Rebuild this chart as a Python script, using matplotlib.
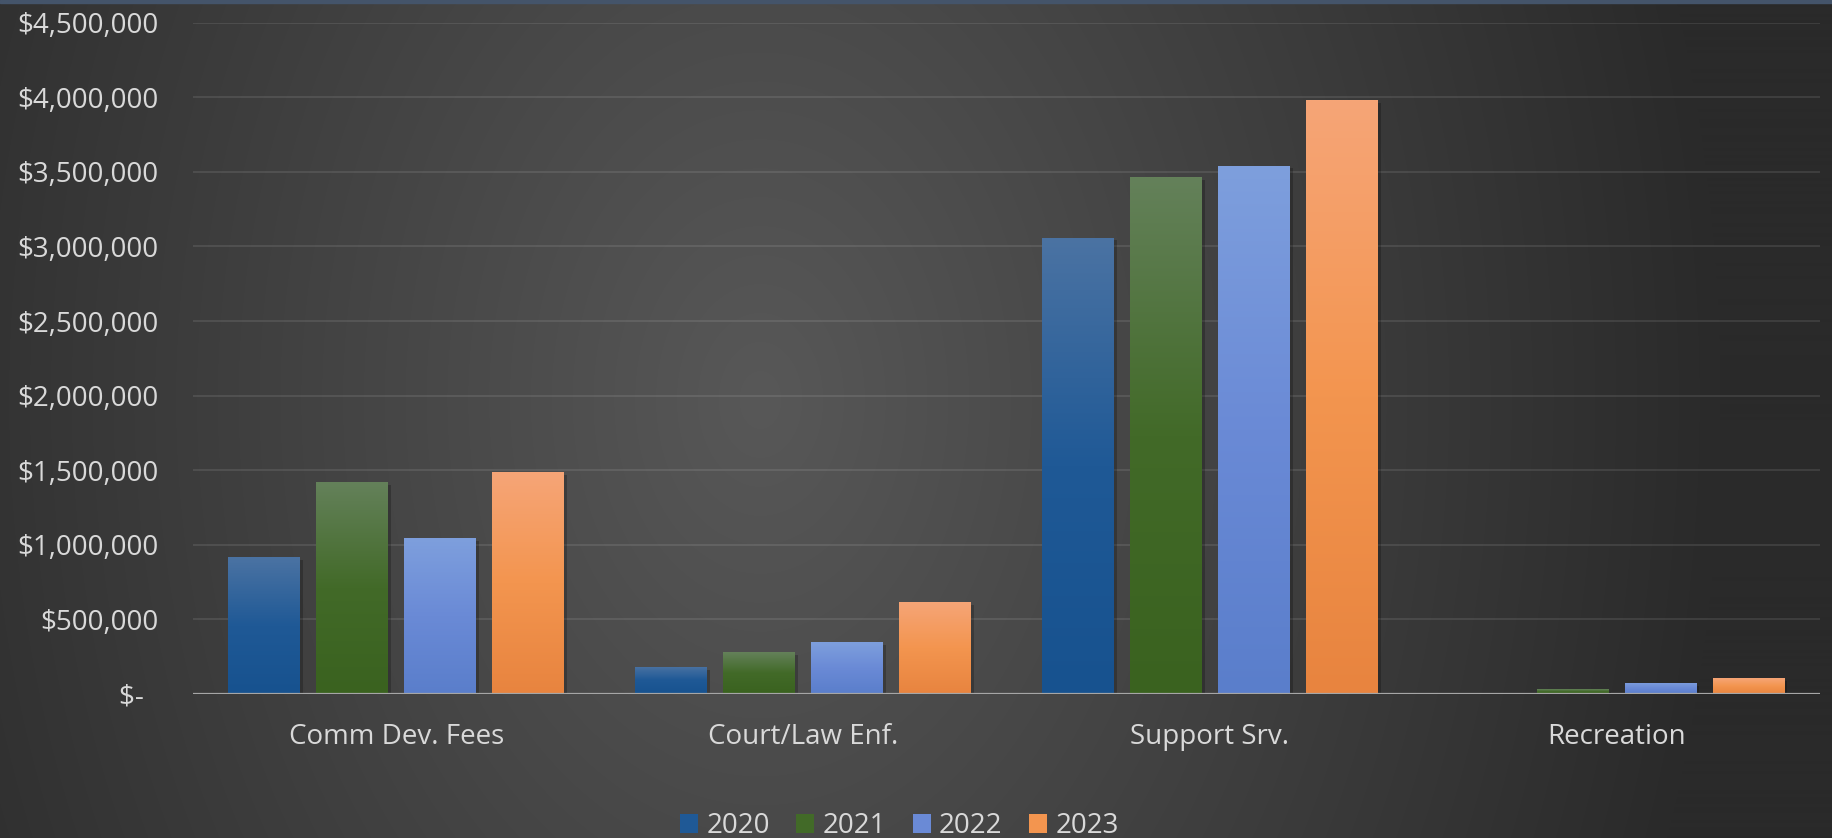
import numpy as np
import matplotlib
matplotlib.use('Agg')
import matplotlib.pyplot as plt
import matplotlib.patheffects as pe
from matplotlib.patches import Rectangle, Patch
from matplotlib.colors import LinearSegmentedColormap

categories = ['Comm Dev. Fees', 'Court/Law Enf.', 'Support Srv.', 'Recreation']
years = ['2020', '2021', '2022', '2023']
v2020 = [917000, 181000, 3059000, 0]
v2021 = [1419000, 281000, 3464000, 33000]
v2022 = [1044000, 348000, 3542000, 74000]
v2023 = [1486000, 616000, 3980000, 107000]
yticks = [0, 500000, 1000000, 1500000, 2000000, 2500000, 3000000, 3500000, 4000000, 4500000]
ytick_labels = ['$-  ', '$500,000', '$1,000,000', '$1,500,000', '$2,000,000',
                '$2,500,000', '$3,000,000', '$3,500,000', '$4,000,000', '$4,500,000']

top_colors = ['#4b73a3', '#64815a', '#7e9fdd', '#f6a577']
mid_colors = ['#1f5996', '#426a28', '#6a8ad6', '#f3954f']
bottom_colors = ['#17528f', '#3a621f', '#5a7ecb', '#e8843f']

W, H = 1833, 838
fig = plt.figure(figsize=(W / 100, H / 100), dpi=100)

# background: soft radial glow
bg = fig.add_axes([0, 0, 1, 1], zorder=-10)
yy, xx = np.mgrid[0:H, 0:W]
d = np.sqrt(((xx - 760) / 960.0) ** 2 + ((yy - 400) / 1330.0) ** 2)
lev = (88 - 46 * np.clip(d, 0, 1)) / 255.0
bg.imshow(np.dstack([lev, lev, lev]), extent=[0, 1, 0, 1], aspect='auto', origin='upper')
bg.set_axis_off()
fig.patches.append(Rectangle((0, 1 - 3.0 / H), 1, 3.0 / H, transform=fig.transFigure,
                             color='#44546a', zorder=5))

ax = fig.add_axes([193 / W, 1 - 694 / H, (1820 - 193) / W, (694 - 22.7) / H])
ax.patch.set_alpha(0)

x = np.arange(len(categories))
width = 0.177
step = 0.2163
series = [v2020, v2021, v2022, v2023]
for i, vals in enumerate(series):
    bars = ax.bar(x + (i - 1.5) * step, vals, width, color=mid_colors[i], zorder=3,
                  path_effects=[pe.SimplePatchShadow(offset=(2, -2), shadow_rgbFace='black', alpha=0.22),
                                pe.Normal()])
    cmap = LinearSegmentedColormap.from_list('g%d' % i, [bottom_colors[i], mid_colors[i], top_colors[i]])
    grad = np.linspace(0, 1, 256).reshape(-1, 1)
    for p in bars:
        h = p.get_height()
        if h <= 0:
            continue
        x0, y0 = p.get_xy()
        im = ax.imshow(grad, extent=[x0, x0 + p.get_width(), y0, y0 + h], aspect='auto',
                       cmap=cmap, origin='lower', zorder=3.5, interpolation='bilinear')
        im.set_clip_path(p)

ax.set_xlim(-0.5, 3.5)
ax.set_ylim(0, 4500000)
ax.set_yticks(yticks)
ax.set_yticklabels(ytick_labels)
ax.set_xticks(x)
ax.set_xticklabels(categories)
ax.grid(axis='y', color='white', alpha=0.1, linewidth=1.3, zorder=1)
ax.axhline(0, color='#a6a6a6', linewidth=1.6, zorder=4)
for s in ax.spines.values():
    s.set_visible(False)
ax.tick_params(axis='y', length=0, pad=25, labelsize=20, labelcolor='#d9d9d9')
ax.tick_params(axis='x', length=0, pad=21, labelsize=20, labelcolor='#d9d9d9')
for lab in ax.get_xticklabels() + ax.get_yticklabels():
    lab.set_family(['Open Sans', 'DejaVu Sans'])

handles = [Patch(facecolor=mid_colors[i], edgecolor='none') for i in range(4)]
fig.legend(handles, years, loc='center', bbox_to_anchor=(0.4907, 1 - 826 / H), ncol=4,
           frameon=False, handlelength=0.65, handleheight=0.65, handletextpad=0.3,
           columnspacing=0.95, borderaxespad=0, borderpad=0,
           prop={'family': 'Open Sans', 'size': 20}, labelcolor='#d9d9d9')

fig.savefig('out.png', dpi=100)
